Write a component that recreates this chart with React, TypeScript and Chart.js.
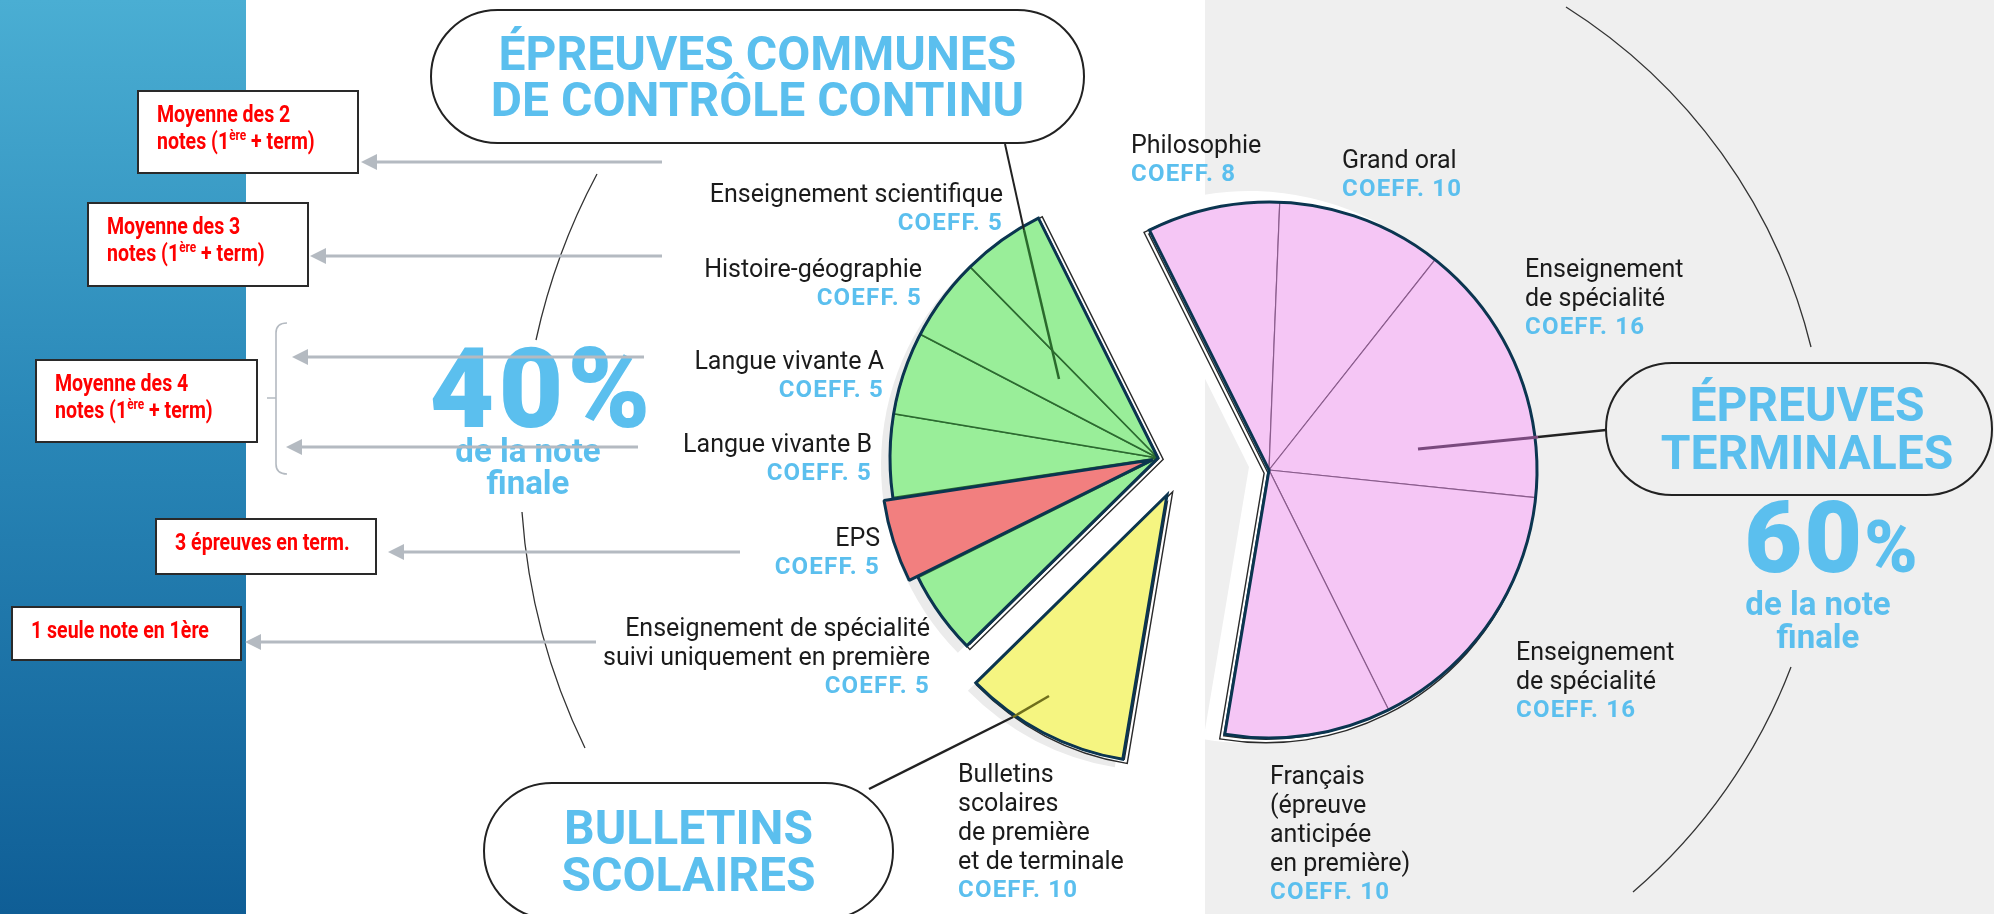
import React, { useEffect, useRef } from 'react';
import { Chart, registerables } from 'chart.js';

Chart.register(...registerables);

// ---------- DATA ----------
const subjects = [
  'Philosophie',
  'Grand oral',
  'Enseignement\nde spécialité',
  'Enseignement\nde spécialité',
  'Français\n(épreuve\nanticipée\nen première)',
  'Bulletins\nscolaires\nde première\net de terminale',
  'Enseignement de spécialité\nsuivi uniquement en première',
  'EPS',
  'Langue vivante B',
  'Langue vivante A',
  'Histoire-géographie',
  'Enseignement scientifique',
];
const coefficients = [8, 10, 16, 16, 10, 10, 5, 5, 5, 5, 5, 5];
const sliceGroups = ['T', 'T', 'T', 'T', 'T', 'B', 'C', 'C', 'C', 'C', 'C', 'C'];
const groupTitles = ['ÉPREUVES COMMUNES\nDE CONTRÔLE CONTINU', 'ÉPREUVES\nTERMINALES', 'BULLETINS\nSCOLAIRES'];
const shareValues = ['40', '60'];
const shareSubtitle = 'de la note\nfinale';
const noteBoxTexts = [
  ['Moyenne des 2', 'notes (1', 'ère', ' + term)'],
  ['Moyenne des 3', 'notes (1', 'ère', ' + term)'],
  ['Moyenne des 4', 'notes (1', 'ère', ' + term)'],
  ['3 épreuves en term.'],
  ['1 seule note en 1ère'],
];

// ---------- STYLES ----------
const sliceColors = ['#f5c6f5', '#f5c6f5', '#f5c6f5', '#f5c6f5', '#f5c6f5', '#f5f581',
  '#99ee99', '#f27f7f', '#99ee99', '#99ee99', '#99ee99', '#99ee99'];
const dividerColors = ['#8a5c8c', '#8a5c8c', '#8a5c8c', '#8a5c8c', '#8a5c8c', '#8f8f2c',
  '#2c6a30', '#0b3550', '#2c6a30', '#2c6a30', '#2c6a30', '#2c6a30'];
const dividerWidths = [1.2, 1.2, 1.2, 1.2, 1.2, 1.5, 1.6, 3, 1.6, 1.6, 1.6, 1.6];
const sliceOffsets = [0, 0, 0, 0, 0, 0, 0, 22, 0, 0, 0, 0];

const groupStyle: Record<string, any> = {
  T: { dx: 89, dy: 4, shadow: '#ffffff', sdx: -20, sdy: -3, sr: 8, cdx: -3, cdy: 3 },
  B: { dx: -13, dy: 29, shadow: '#ebebeb', sdx: -8, sdy: 8, sr: 0, cdx: 3, cdy: 2 },
  C: { dx: -22, dy: -8, shadow: '#ebebeb', sdx: -9, sdy: 7, sr: 0, cdx: 3, cdy: 1 },
};

const labelSpots = [
  { x: 1131, y: 144, align: 'left' },
  { x: 1342, y: 159, align: 'left' },
  { x: 1525, y: 268, align: 'left' },
  { x: 1516, y: 651, align: 'left' },
  { x: 1270, y: 775, align: 'left' },
  { x: 958, y: 773, align: 'left' },
  { x: 930, y: 627, align: 'right' },
  { x: 880, y: 537, align: 'right' },
  { x: 872, y: 443, align: 'right' },
  { x: 884, y: 360, align: 'right' },
  { x: 922, y: 268, align: 'right' },
  { x: 1003, y: 193, align: 'right' },
];

const pillSpots = [
  { left: 430, top: 9, w: 655, h: 135, bg: '#ffffff', lh: 46, padL: 0 },
  { left: 1605, top: 362, w: 388, h: 134, bg: '#efefef', lh: 48, padL: 16 },
  { left: 483, top: 782, w: 411, h: 138, bg: '#ffffff', lh: 47, padL: 0 },
];

const boxSpots = [
  { left: 137, top: 90, w: 222, h: 84 },
  { left: 87, top: 202, w: 222, h: 85 },
  { left: 35, top: 359, w: 223, h: 84 },
  { left: 155, top: 518, w: 222, h: 57 },
  { left: 11, top: 606, w: 231, h: 55 },
];

const arrowSpots = [
  { y: 162, x1: 662, x2: 361 },
  { y: 256, x1: 662, x2: 310 },
  { y: 357, x1: 644, x2: 292 },
  { y: 447, x1: 638, x2: 286 },
  { y: 552, x1: 740, x2: 388 },
  { y: 642, x1: 596, x2: 245 },
];

const BLUE = '#5bbfee';
const INK = '#1b1b1b';

// ---------- PLUGIN: draw slices grouped & exploded ----------
const explodedPie = {
  id: 'explodedPie',
  beforeDatasetsDraw(chart: any) {
    const ctx = chart.ctx as CanvasRenderingContext2D;
    const arcs = chart.getDatasetMeta(0).data as any[];
    const spans = ['T', 'B', 'C'].map((k) => {
      const idx = sliceGroups.map((g, i) => (g === k ? i : -1)).filter((i) => i >= 0);
      const first = arcs[idx[0]];
      const last = arcs[idx[idx.length - 1]];
      return { k, idx, x: first.x, y: first.y, r: first.outerRadius, a0: first.startAngle, a1: last.endAngle };
    });
    const path = (s: any, dx: number, dy: number, extra: number) => {
      ctx.beginPath();
      ctx.moveTo(s.x + dx, s.y + dy);
      ctx.arc(s.x + dx, s.y + dy, s.r + extra, s.a0, s.a1);
      ctx.closePath();
    };
    spans.forEach((s) => {
      const st = groupStyle[s.k];
      ctx.save();
      ctx.fillStyle = st.shadow;
      path(s, st.dx + st.sdx, st.dy + st.sdy, st.sr);
      ctx.fill();
      ctx.restore();
    });
    spans.forEach((s) => {
      const st = groupStyle[s.k];
      ctx.save();
      ctx.lineJoin = 'miter';
      path(s, st.dx + st.cdx, st.dy + st.cdy, 0);
      ctx.strokeStyle = '#2a2a2a';
      ctx.lineWidth = 5;
      ctx.stroke();
      ctx.strokeStyle = '#ffffff';
      ctx.lineWidth = 2.2;
      ctx.stroke();
      ctx.restore();
    });
    spans.forEach((s) => {
      const st = groupStyle[s.k];
      ctx.save();
      ctx.translate(st.dx, st.dy);
      s.idx.forEach((i) => { if (!sliceOffsets[i]) arcs[i].draw(ctx); });
      ctx.restore();
    });
    spans.forEach((s) => {
      const st = groupStyle[s.k];
      ctx.save();
      ctx.lineJoin = 'miter';
      path(s, st.dx, st.dy, 0);
      ctx.strokeStyle = '#0b3550';
      ctx.lineWidth = 3;
      ctx.stroke();
      ctx.restore();
    });
    spans.forEach((s) => {
      const st = groupStyle[s.k];
      ctx.save();
      ctx.translate(st.dx, st.dy);
      s.idx.forEach((i) => { if (sliceOffsets[i]) arcs[i].draw(ctx); });
      ctx.restore();
    });
    return false;
  },
};

function MultiLine({ text }: { text: string }) {
  return <>{text.split('\n').map((t, i) => <div key={i}>{t}</div>)}</>;
}

export default function App() {
  const canvasRef = useRef<HTMLCanvasElement>(null);

  useEffect(() => {
    const chart = new Chart(canvasRef.current as HTMLCanvasElement, {
      type: 'pie',
      data: {
        labels: subjects,
        datasets: [{
          data: coefficients,
          backgroundColor: sliceColors,
          borderColor: dividerColors,
          borderWidth: dividerWidths,
          offset: sliceOffsets,
          rotation: -26.5,
          radius: 268,
        } as any],
      },
      options: {
        animation: false,
        responsive: false,
        devicePixelRatio: 1,
        events: [],
        layout: { padding: { left: 366, top: 18, right: 0, bottom: 0 } },
        plugins: { legend: { display: false }, tooltip: { enabled: false } },
      } as any,
      plugins: [explodedPie as any],
    });
    return () => chart.destroy();
  }, []);

  const labelFont = 'Roboto, "Open Sans", sans-serif';

  return (
    <div style={{ position: 'absolute', left: 0, top: 0, width: 1994, height: 914, overflow: 'hidden', background: '#ffffff', fontFamily: labelFont }}>
      <div style={{ position: 'absolute', left: 0, top: 0, width: 246, height: 914, background: 'linear-gradient(180deg, #4aaed3 0%, #2a88b8 45%, #0f5e96 100%)' }} />
      <div style={{ position: 'absolute', left: 1205, top: 0, width: 789, height: 914, background: '#efefef' }} />

      <canvas ref={canvasRef} width={1994} height={914} style={{ position: 'absolute', left: 0, top: 0, width: 1994, height: 914 }} />

      <svg width={1994} height={914} style={{ position: 'absolute', left: 0, top: 0 }}>
        <g fill="none" stroke="#333" strokeWidth={1.3}>
          <path d="M 597 174 A 642 642 0 0 0 536 340" />
          <path d="M 522 512 A 642 642 0 0 0 585 748" />
          <path d="M 1566 7 A 560 560 0 0 1 1811 347" />
          <path d="M 1791 667 A 560 560 0 0 1 1633 892" />
        </g>
        <g fill="none" strokeLinecap="butt">
          <line x1={1005} y1={144} x2={1024} y2={230} stroke="#222" strokeWidth={2} />
          <line x1={1024} y1={230} x2={1059} y2={379} stroke="#2a6a2c" strokeWidth={2.5} />
          <line x1={1606} y1={430} x2={1538} y2={437} stroke="#222" strokeWidth={2.5} />
          <line x1={1538} y1={437} x2={1418} y2={449} stroke="#7a4a7e" strokeWidth={3} />
          <line x1={869} y1={789} x2={1013} y2={717} stroke="#222" strokeWidth={2.5} />
          <line x1={1013} y1={717} x2={1049} y2={696} stroke="#6f6f1c" strokeWidth={2.5} />
        </g>
      </svg>

      {pillSpots.map((p, i) => (
        <div key={'pill' + i} style={{
          position: 'absolute', left: p.left, top: p.top, width: p.w, height: p.h, boxSizing: 'border-box',
          border: '2.5px solid #222', borderRadius: 70, background: p.bg,
          display: 'flex', flexDirection: 'column', alignItems: 'center', justifyContent: 'center',
          paddingLeft: p.padL, color: BLUE, fontWeight: 700, fontSize: 48, lineHeight: p.lh + 'px',
          textAlign: 'center', whiteSpace: 'pre', fontFamily: labelFont,
        }}>
          <MultiLine text={groupTitles[i]} />
        </div>
      ))}

      {subjects.map((name, i) => {
        const s = labelSpots[i];
        const pos: any = s.align === 'left' ? { left: s.x } : { right: 1994 - s.x };
        return (
          <div key={'lab' + i} style={{
            position: 'absolute', top: s.y - 14.5, ...pos, textAlign: s.align as any,
            fontSize: 25, lineHeight: '29px', color: INK, whiteSpace: 'pre', fontFamily: labelFont,
          }}>
            <MultiLine text={name} />
            <div style={{ color: BLUE, fontWeight: 700, fontSize: 24, letterSpacing: '1.2px' }}>{'COEFF. ' + coefficients[i]}</div>
          </div>
        );
      })}

      <div style={{ position: 'absolute', left: 422, top: 334, width: 240, textAlign: 'center', color: BLUE, fontWeight: 900, fontSize: 112, lineHeight: '110px', letterSpacing: '4px', whiteSpace: 'pre' }}>
        {shareValues[0] + '%'}
      </div>
      <div style={{ position: 'absolute', left: 428, top: 435, width: 200, textAlign: 'center', color: BLUE, fontWeight: 700, fontSize: 33, lineHeight: '32px', whiteSpace: 'pre' }}>
        <MultiLine text={shareSubtitle} />
      </div>
      <div style={{ position: 'absolute', left: 1712, top: 488, width: 240, textAlign: 'center', color: BLUE, fontWeight: 900, fontSize: 100, lineHeight: '100px', letterSpacing: '2px', whiteSpace: 'pre' }}>
        {shareValues[1]}<span style={{ fontSize: 72 }}>%</span>
      </div>
      <div style={{ position: 'absolute', left: 1718, top: 587, width: 200, textAlign: 'center', color: BLUE, fontWeight: 700, fontSize: 33, lineHeight: '33px', whiteSpace: 'pre' }}>
        <MultiLine text={shareSubtitle} />
      </div>

      <svg width={1994} height={914} style={{ position: 'absolute', left: 0, top: 0 }}>
        {arrowSpots.map((a, i) => (
          <g key={'ar' + i}>
            <line x1={a.x1} y1={a.y} x2={a.x2 + 14} y2={a.y} stroke="#b4bac1" strokeWidth={3} />
            <polygon points={`${a.x2},${a.y} ${a.x2 + 16},${a.y - 8} ${a.x2 + 16},${a.y + 8}`} fill="#b4bac1" />
          </g>
        ))}
        <path d="M 287 323 Q 276 323 276 333 L 276 464 Q 276 474 287 474 M 276 398 L 267 398" fill="none" stroke="#b4bac1" strokeWidth={1.6} />
      </svg>

      {boxSpots.map((b, i) => {
        const t = noteBoxTexts[i];
        return (
          <div key={'box' + i} style={{
            position: 'absolute', left: b.left, top: b.top, width: b.w, height: b.h, boxSizing: 'border-box',
            border: '2px solid #2a2a2a', background: '#ffffff', paddingTop: 9, paddingLeft: 18,
          }}>
            <div style={{
              color: '#ff0000', fontWeight: 700, fontSize: 23, lineHeight: '27px',
              fontFamily: labelFont, whiteSpace: 'pre', transform: 'scaleX(0.85)', transformOrigin: 'left top',
            }}>
              <div>{t[0]}</div>
              {t.length > 1 && (
                <div>{t[1]}<sup style={{ fontSize: 14, lineHeight: 0 }}>{t[2]}</sup>{t[3]}</div>
              )}
            </div>
          </div>
        );
      })}
    </div>
  );
}
